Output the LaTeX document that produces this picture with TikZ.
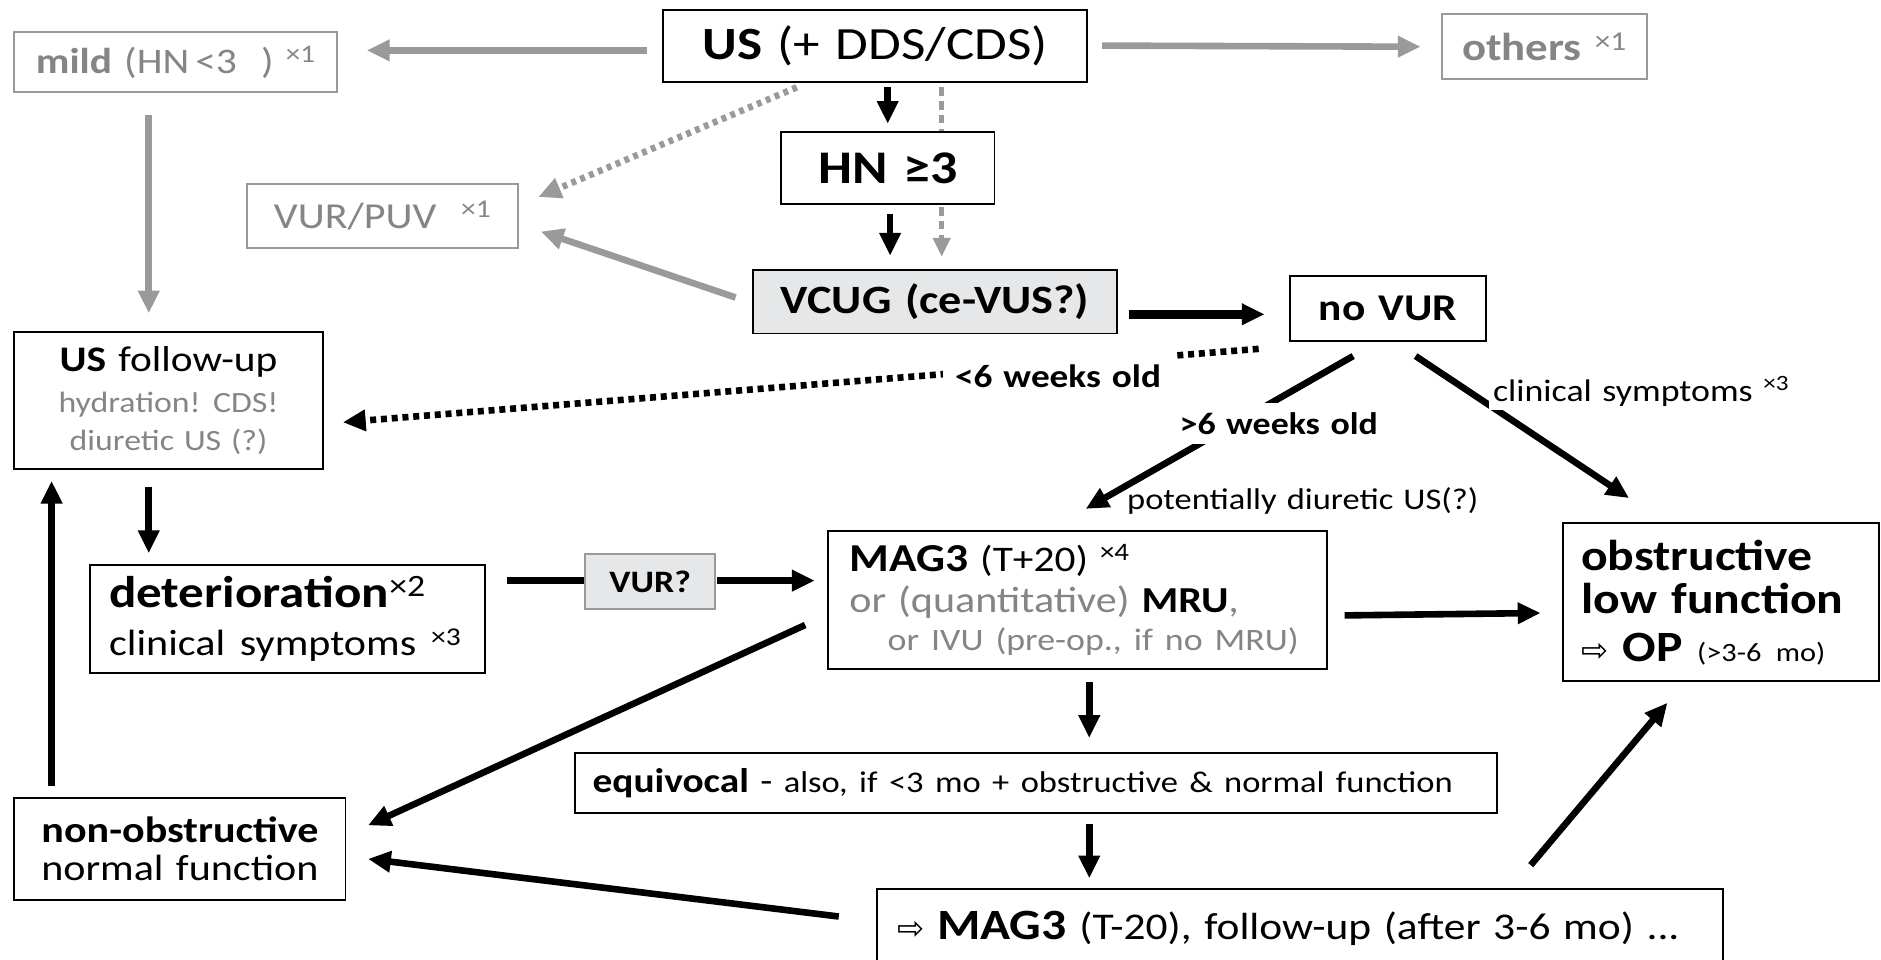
\documentclass[tikz,border=0pt]{standalone}
\usepackage{fontspec}
\setmainfont{Carlito}[FakeStretch=1.15, WordSpace=1.3]
\newfontfamily\symf{DejaVu Sans}
\usetikzlibrary{arrows.meta}
\definecolor{gtxt}{HTML}{858585}
\definecolor{gline}{HTML}{9A9A9A}
\definecolor{gfill}{HTML}{E6E7E8}
\newcommand{\fsz}[1]{\fontsize{#1}{1.15\dimexpr#1pt\relax}\selectfont}
\newcommand{\sups}[1]{\textsuperscript{#1}}
\begin{document}
\begin{tikzpicture}[x=1pt,y=-1pt,
  box/.style={draw=black, line width=1.6pt, inner sep=0pt, align=center, fill=white},
  gbox/.style={draw=gline, line width=1.6pt, inner sep=0pt, align=center, text=gtxt, fill=white},
  arr/.style={draw=black, line width=5.5pt, -{Triangle[length=19pt,width=17pt]}},
  garr/.style={draw=gline, line width=5.5pt, -{Triangle[length=19pt,width=17pt]}, color=gline},
  gdash/.style={draw=gline, line width=4pt, dash pattern=on 7pt off 4.5pt},
  gdot/.style={draw=gline, line width=5.5pt, dash pattern=on 4pt off 4pt},
  bdot/.style={draw=black, line width=5.5pt, dash pattern=on 5pt off 4pt},
  lbl/.style={inner sep=4pt, fill=white}
]
\useasboundingbox (0,0) rectangle (1568,800);

% ---------- nodes ----------
\node[box, minimum width=353pt, minimum height=60pt, font=\fsz{38.5}] (us) at (729.5,38)
  {\textbf{US} (+ DDS/CDS)};
\node[gbox, minimum width=269pt, minimum height=50pt, font=\fsz{30}] (mild) at (146.5,52)
  {\textbf{mild} (HN\,<3\ \ ) \sups{×1}};
\node[gbox, minimum width=171pt, minimum height=54pt, font=\fsz{32.5}] (others) at (1287.5,39)
  {\textbf{others} \sups{×1}};
\node[box, minimum width=178pt, minimum height=60pt, font=\fsz{39}] (hn) at (740,140)
  {\textbf{HN ≥3}};
\node[gbox, minimum width=226pt, minimum height=54pt, font=\fsz{30.5}] (vurpuv) at (319,180)
  {VUR/PUV \ \sups{×1}};
\node[box, fill=gfill, minimum width=303pt, minimum height=53pt, font=\fsz{33.5}] (vcug) at (779.5,251.5)
  {\textbf{VCUG (ce-VUS?)}};
\node[box, minimum width=164pt, minimum height=54pt, font=\fsz{31.5}] (novur) at (1157,257)
  {\textbf{no VUR}};
\node[box, minimum width=257pt, minimum height=114pt, font=\fsz{30}] (usf) at (140.5,334)
  {\textbf{US} follow-up\\
   {\color{gtxt}\fsz{24.5}hydration! CDS!}\\[-3pt]
   {\color{gtxt}\fsz{24.5}diuretic US (?)}};
\node[box, minimum width=263pt, minimum height=132pt, inner xsep=15pt, text width=233pt, align=left, font=\fsz{36}] (obst) at (1434.5,502)
  {\textbf{obstructive}\\[-5pt]
   \textbf{low function}\\[-2pt]
   {\symf\fsz{27}⇨} \textbf{OP} {\fsz{22}(>3-6 mo)}};
\node[box, minimum width=416pt, minimum height=115pt, inner xsep=18pt, text width=380pt, align=left, font=\fsz{30}] (mag3) at (898,500.5)
  {{\fsz{33}\textbf{MAG3}} {\fsz{30}(T+20) \sups{×4}}\\[-1pt]
   {\fsz{30.5}{\color{gtxt}or (quantitative)} \textbf{MRU}{\color{gtxt},}}\\[-2pt]
   \hspace*{32pt}{\fsz{26}\color{gtxt}or IVU (pre-op., if no MRU)}};
\node[box, minimum width=329pt, minimum height=90pt, inner xsep=16pt, text width=297pt, align=left, font=\fsz{37}] (det) at (239.5,516)
  {\textbf{deterioration}\sups{×2}\\[-2pt]
   {\fsz{30.5}clinical symptoms \sups{×3}}};
\node[box, draw=gline, fill=gfill, minimum width=108pt, minimum height=46pt, font=\fsz{26}] (vurq) at (542,485)
  {\textbf{VUR?}};
\node[box, minimum width=276pt, minimum height=85pt, font=\fsz{30.5}] (nonobs) at (150,707.5)
  {\textbf{non-obstructive}\\[-4pt]
   normal function};
\node[box, minimum width=769pt, minimum height=50pt, inner xsep=15pt, text width=739pt, align=left, font=\fsz{28.5}] (equiv) at (863.5,653)
  {\textbf{equivocal} - {\fsz{25}also, if <3 mo + obstructive \& normal function}};
\node[box, minimum width=705pt, minimum height=65pt, inner xsep=17pt, text width=671pt, align=left, font=\fsz{31.5}] (final) at (1083.5,773.5)
  {{\symf\fsz{27}⇨} \textbf{\fsz{36}MAG3} (T-20), follow-up (after 3-6 mo) ...};

% ---------- connectors ----------
% grey
\draw[garr, shorten >=24pt] ([xshift=-13pt,yshift=-4pt]us.west) coordinate (a1) -- (mild.east |- a1);
\draw[garr, shorten <=12pt, shorten >=17pt] (us.east) -- (others.west);
\draw[garr, shorten <=18pt, shorten >=15pt] ([xshift=-22.5pt]mild.south) coordinate (a7) -- (a7 |- usf.north);
\draw[gdot, -{Triangle[length=19pt,width=17pt]}] ([xshift=112pt,yshift=-4pt]us.south west) -- ([xshift=16pt,yshift=-12pt]vurpuv.north east);
\draw[garr] ([xshift=-14pt,yshift=3.5pt]vcug.west) -- ([xshift=18pt,yshift=-13pt]vurpuv.east);
\draw[gdash, shorten <=4pt] ([xshift=5.5pt]vcug.north |- us.south) -- ([xshift=5.5pt]vcug.north |- hn.north);
\draw[gdash, shorten <=2pt, shorten >=10pt, -{Triangle[length=16pt,width=14pt]}] ([xshift=5.5pt]vcug.north |- hn.south) -- ([xshift=5.5pt]vcug.north);

% black
\draw[arr, shorten <=4pt, shorten >=6pt] (hn.north |- us.south) -- (hn.north);
\draw[arr, shorten <=8pt, shorten >=11pt] ([xshift=2pt]hn.south) coordinate (a8) -- (a8 |- vcug.north);
\draw[arr, line width=7pt, shorten <=9pt, shorten >=20pt] ([yshift=-10.5pt]vcug.east) coordinate (a9) -- (novur.west |- a9);
\draw[bdot, -{Triangle[length=19pt,width=17pt]}] ([xshift=-25pt,yshift=-6pt]novur.south west) -- ([xshift=16pt,yshift=-18pt]usf.east);
\node[lbl, inner xsep=10pt, inner ysep=11pt, font=\fsz{27}] (lt6) at (882,314) {\textbf{<6 weeks old}};
\draw[arr] ([xshift=-29pt,yshift=-12pt]novur.south) -- ([xshift=7pt,yshift=18pt]mag3.north);
\node[lbl, inner xsep=8pt, inner ysep=8pt, font=\fsz{26}] (gt6) at (1066,353) {\textbf{>6 weeks old}};
\node[font=\fsz{25}] (pdu) at (1086,418) {potentially diuretic US(?)};
\draw[arr] ([xshift=23pt,yshift=-12pt]novur.south) -- ([xshift=-76.5pt,yshift=20pt]obst.north);
\node[lbl, inner sep=3pt, font=\fsz{26}] (cs) at (1368,326) {clinical symptoms \sups{×3}};
\draw[arr, shorten >=0pt] ([xshift=14pt,yshift=-12.5pt]mag3.east) -- ([xshift=-18pt,yshift=-9pt]obst.west);
\draw[arr, shorten <=14pt, shorten >=9pt] ([xshift=-16.5pt]usf.south) coordinate (a14) -- (a14 |- det.north);
\draw[draw=black, line width=5.5pt] ([xshift=18pt,yshift=32pt]det.east) coordinate (a15) -- (vurq.west |- a15);
\draw[arr, shorten <=1pt, shorten >=10pt] ([yshift=1pt]vurq.east) coordinate (a16) -- (mag3.west |- a16);
\draw[arr, shorten <=9pt, shorten >=9pt] ([xshift=-107pt]nonobs.north) coordinate (a17) -- (a17 |- usf.south);
\draw[arr] ([xshift=-18pt,yshift=-20.5pt]mag3.west) -- ([xshift=18pt,yshift=19.5pt]nonobs.east);
\draw[arr, shorten <=10pt, shorten >=12pt] ([xshift=10pt]mag3.south) coordinate (a19) -- (a19 |- equiv.north);
\draw[arr, shorten <=8pt, shorten >=8pt] ([xshift=44.5pt]equiv.south) coordinate (a20) -- (a20 |- final.north);
\draw[arr] ([xshift=-31pt,yshift=9.5pt]final.west) -- ([xshift=18pt,yshift=-8.5pt]nonobs.east);
\draw[arr] ([xshift=192.5pt,yshift=19pt]final.north) -- ([xshift=-44.5pt,yshift=-17pt]obst.south);
\end{tikzpicture}
\end{document}
